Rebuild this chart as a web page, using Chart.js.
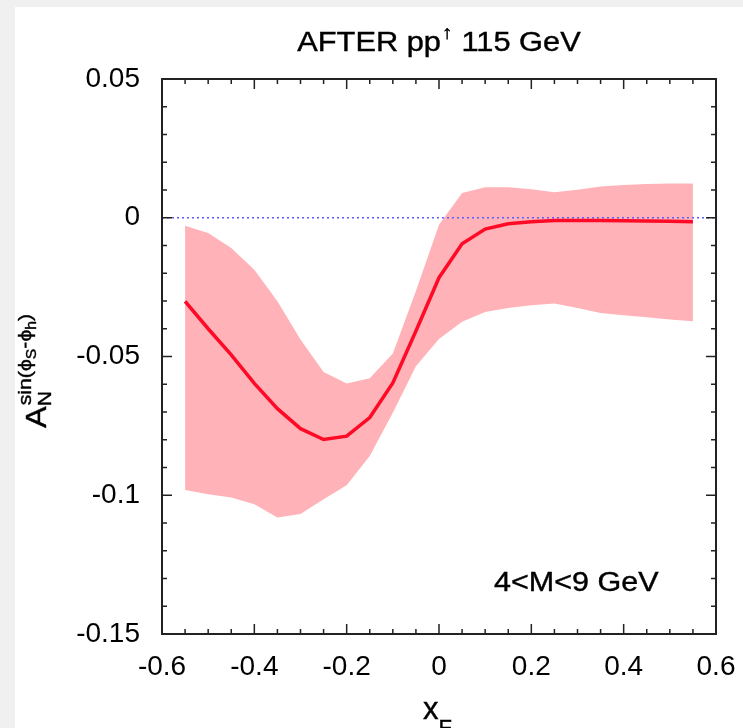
<!DOCTYPE html>
<html>
<head>
<meta charset="utf-8">
<script src="https://cdn.jsdelivr.net/npm/chart.js@4.4.0/dist/chart.umd.min.js"></script>
<style>
  body { margin: 0; background: #f0f0f0; }
  #wrap { position: absolute; left: 15px; top: 7px; width: 728px; height: 721px; background: #fff; }
</style>
</head>
<body>
<div id="wrap"><canvas id="myChart" width="728" height="721"></canvas></div>
<script>
var xF = [-0.55, -0.50, -0.45, -0.40, -0.35, -0.30, -0.25, -0.20, -0.15, -0.10, -0.05, 0.00,
          0.05, 0.10, 0.15, 0.20, 0.25, 0.30, 0.35, 0.40, 0.45, 0.50, 0.55];
var asym = [-0.0301, -0.0400, -0.0494, -0.0597, -0.0688, -0.0760, -0.0799, -0.0787, -0.0720, -0.0595, -0.0408, -0.0216,
            -0.0094, -0.0041, -0.0022, -0.0014, -0.0010, -0.0010, -0.0010, -0.0011, -0.0012, -0.0013, -0.0014];
var bandUp = [-0.0029, -0.0055, -0.0109, -0.0187, -0.0301, -0.0439, -0.0556, -0.0597, -0.0578, -0.0489, -0.0264, -0.0025,
              0.0089, 0.0110, 0.0110, 0.0103, 0.0092, 0.0101, 0.0113, 0.0118, 0.0122, 0.0123, 0.0123];
var bandLow = [-0.0981, -0.0996, -0.1008, -0.1032, -0.1080, -0.1068, -0.1014, -0.0964, -0.0859, -0.0703, -0.0535, -0.0437,
               -0.0375, -0.0340, -0.0325, -0.0315, -0.0309, -0.0325, -0.0343, -0.0351, -0.0359, -0.0367, -0.0373];
var zeroLine = [0, 0];
var xTickValues = [-0.6, -0.4, -0.2, 0, 0.2, 0.4, 0.6];
var yTickValues = [-0.15, -0.1, -0.05, 0, 0.05];

var FONT = "'Liberation Sans', Arial, Helvetica, sans-serif";

function pts(ys) {
  return xF.map(function (x, i) { return { x: x, y: ys[i] }; });
}

function fmt(v) {
  return String(Math.round(v * 100) / 100);
}

// draws a row of text pieces [{t, size, dy}] with a slight horizontal stretch
function drawRich(ctx, pieces, x, y, stretch, align) {
  ctx.save();
  var total = 0;
  pieces.forEach(function (p) {
    ctx.font = p.size + 'px ' + FONT;
    p.w = ctx.measureText(p.t).width;
    total += p.w + (p.dx || 0);
  });
  ctx.translate(x, y);
  ctx.scale(stretch, 1);
  var cx = align === 'center' ? -total / 2 : 0;
  ctx.fillStyle = '#000';
  ctx.strokeStyle = '#000';
  ctx.lineWidth = 0.4;
  ctx.textBaseline = 'alphabetic';
  ctx.textAlign = 'left';
  pieces.forEach(function (p) {
    ctx.font = p.size + 'px ' + FONT;
    ctx.fillText(p.t, cx + (p.dx || 0), p.dy || 0);
    ctx.strokeText(p.t, cx + (p.dx || 0), p.dy || 0);
    cx += p.w + (p.dx || 0);
  });
  ctx.restore();
}

var frame = {
  id: 'frame',
  afterDraw: function (chart) {
    var ctx = chart.ctx, a = chart.chartArea;
    var sx = chart.scales.x, sy = chart.scales.y;
    ctx.save();
    ctx.strokeStyle = '#222';
    ctx.lineWidth = 1.5;
    ctx.beginPath();
    for (var k = 0; k <= 24; k++) {
      var px = sx.getPixelForValue(-0.6 + k * 0.05);
      var len = k % 4 === 0 ? 10 : 5;
      ctx.moveTo(px, a.bottom); ctx.lineTo(px, a.bottom - len);
      ctx.moveTo(px, a.top); ctx.lineTo(px, a.top + len);
    }
    for (var j = 0; j <= 20; j++) {
      var py = sy.getPixelForValue(-0.15 + j * 0.01);
      var l2 = j % 5 === 0 ? 10 : 5;
      ctx.moveTo(a.left, py); ctx.lineTo(a.left + l2, py);
      ctx.moveTo(a.right, py); ctx.lineTo(a.right - l2, py);
    }
    ctx.stroke();
    ctx.lineWidth = 2;
    ctx.strokeRect(a.left, a.top, a.right - a.left, a.bottom - a.top);
    ctx.restore();

    // title
    var mid = (a.left + a.right) / 2;
    drawRich(ctx, [
      { t: 'AFTER pp', size: 27 },
      { t: '\u2191', size: 19, dy: -12, dx: 1 },
      { t: ' 115 GeV', size: 27 }
    ], mid, 44, 1.14, 'center');

    // mass range
    drawRich(ctx, [{ t: '4<M<9 GeV', size: 27 }], 479, 584, 1.13, 'left');

    // x label
    drawRich(ctx, [{ t: 'x', size: 31 }, { t: 'F', size: 22, dy: 16 }], 408, 712, 1.0, 'left');

    // y label, rotated
    ctx.save();
    ctx.translate(31, 421);
    ctx.rotate(-Math.PI / 2);
    drawRich(ctx, [{ t: 'A', size: 29 }], 0, 0, 1.12, 'left');
    ctx.font = '29px ' + FONT;
    var aw = ctx.measureText('A').width * 1.12;
    drawRich(ctx, [{ t: 'N', size: 19, dy: 5 }], aw, 0, 1.1, 'left');
    drawRich(ctx, [
      { t: 'sin(\u03d5', size: 19, dy: -15 },
      { t: 'S', size: 14, dy: -10 },
      { t: '-\u03d5', size: 19, dy: -15 },
      { t: 'h', size: 14, dy: -10 },
      { t: ')', size: 19, dy: -15 }
    ], aw + 1, 0, 1.12, 'left');
    ctx.restore();
  }
};

var config = {
  type: 'line',
  data: {
    datasets: [
      {
        label: 'band upper',
        data: pts(bandUp),
        borderWidth: 0,
        pointRadius: 0,
        backgroundColor: '#ffb3b8',
        fill: '+1',
        order: 2
      },
      {
        label: 'band lower',
        data: pts(bandLow),
        borderWidth: 0,
        pointRadius: 0,
        fill: false,
        order: 3
      },
      {
        label: 'zero',
        data: [{ x: -0.6, y: zeroLine[0] }, { x: 0.6, y: zeroLine[1] }],
        borderColor: '#5c5cff',
        borderWidth: 1.5,
        borderDash: [2, 3],
        pointRadius: 0,
        fill: false,
        order: 1
      },
      {
        label: 'asymmetry',
        data: pts(asym),
        borderColor: '#ff0a26',
        borderWidth: 3.5,
        pointRadius: 0,
        fill: false,
        order: 0
      }
    ]
  },
  options: {
    responsive: false,
    animation: false,
    devicePixelRatio: 1,
    layout: { padding: { top: 72, right: 27, left: 0, bottom: 0 } },
    scales: {
      x: {
        type: 'linear',
        min: -0.6,
        max: 0.6,
        grid: { display: false, drawTicks: false },
        border: { display: false },
        afterBuildTicks: function (s) { s.ticks = xTickValues.map(function (v) { return { value: v }; }); },
        afterFit: function (s) { s.height = 94; s.paddingLeft = 0; s.paddingRight = 0; },
        ticks: { font: { family: FONT, size: 28 }, color: '#000', padding: 16, maxRotation: 0, callback: fmt }
      },
      y: {
        min: -0.15,
        max: 0.05,
        grid: { display: false, drawTicks: false },
        border: { display: false },
        afterBuildTicks: function (s) { s.ticks = yTickValues.map(function (v) { return { value: v }; }); },
        afterFit: function (s) { s.width = 147; s.paddingTop = 0; s.paddingBottom = 0; },
        ticks: { font: { family: FONT, size: 28 }, color: '#000', padding: 22, callback: fmt }
      }
    },
    plugins: {
      legend: { display: false },
      tooltip: { enabled: false },
      title: { display: false }
    }
  },
  plugins: [frame]
};

const myChart = new Chart(document.getElementById('myChart'), config);
</script>
</body>
</html>
